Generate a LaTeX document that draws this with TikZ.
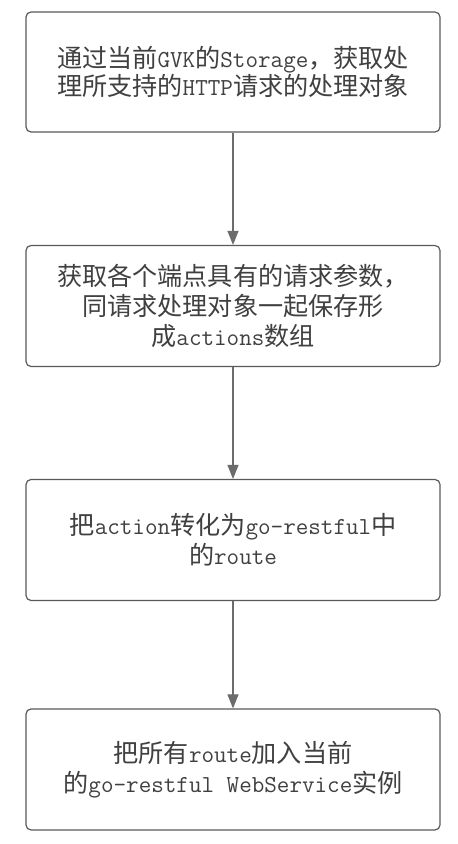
\documentclass[tikz,border=0pt]{standalone}
\usepackage{fontspec}
\setmainfont{Latin Modern Mono}
\newfontfamily\cjk[Scale=1.03]{Noto Sans CJK SC}
\usetikzlibrary{arrows.meta}
\definecolor{txt}{HTML}{404040}
\definecolor{edge}{HTML}{5A5A5A}
\tikzset{
  stepbox/.style={draw=edge, line width=1.2pt, rounded corners=5pt, minimum width=414pt, minimum height=120pt, align=center, text=txt, font=\fontsize{24.4}{30}\selectfont, inner sep=0pt},
  flow/.style={draw=gray!85!black, line width=1.1pt, -{Stealth[length=14pt,width=11pt,inset=0pt]}},
}
\begin{document}
\begin{tikzpicture}[x=1pt,y=1pt]
\useasboundingbox[fill=white] (0,0) rectangle (458,844);
\node[stepbox, font=\fontsize{24.4}{26}\selectfont] (b1) at (233,772) {{\cjk 通过当前}GVK{\cjk 的}Storage{\cjk ，获取处}\\{\cjk 理所支持的}HTTP{\cjk 请求的处理对象}};
\node[stepbox, minimum height=121pt] (b2) at (233,538) {{\cjk 获取各个端点具有的请求参数，}\\{\cjk 同请求处理对象一起保存形}\\{\cjk 成}actions{\cjk 数组}};
\node[stepbox, minimum height=121pt] (b3) at (233,304) {{\cjk 把}action{\cjk 转化为}go-restful{\cjk 中}\\{\cjk 的}route};
\node[stepbox, minimum height=121pt] (b4) at (233,74.5) {{\cjk 把所有}route{\cjk 加入当前}\\{\cjk 的}go-restful WebService{\cjk 实例}};
\draw[flow] (b1.south) -- (b2.north);
\draw[flow] (b2.south) -- (b3.north);
\draw[flow] (b3.south) -- (b4.north);
\end{tikzpicture}
\end{document}
